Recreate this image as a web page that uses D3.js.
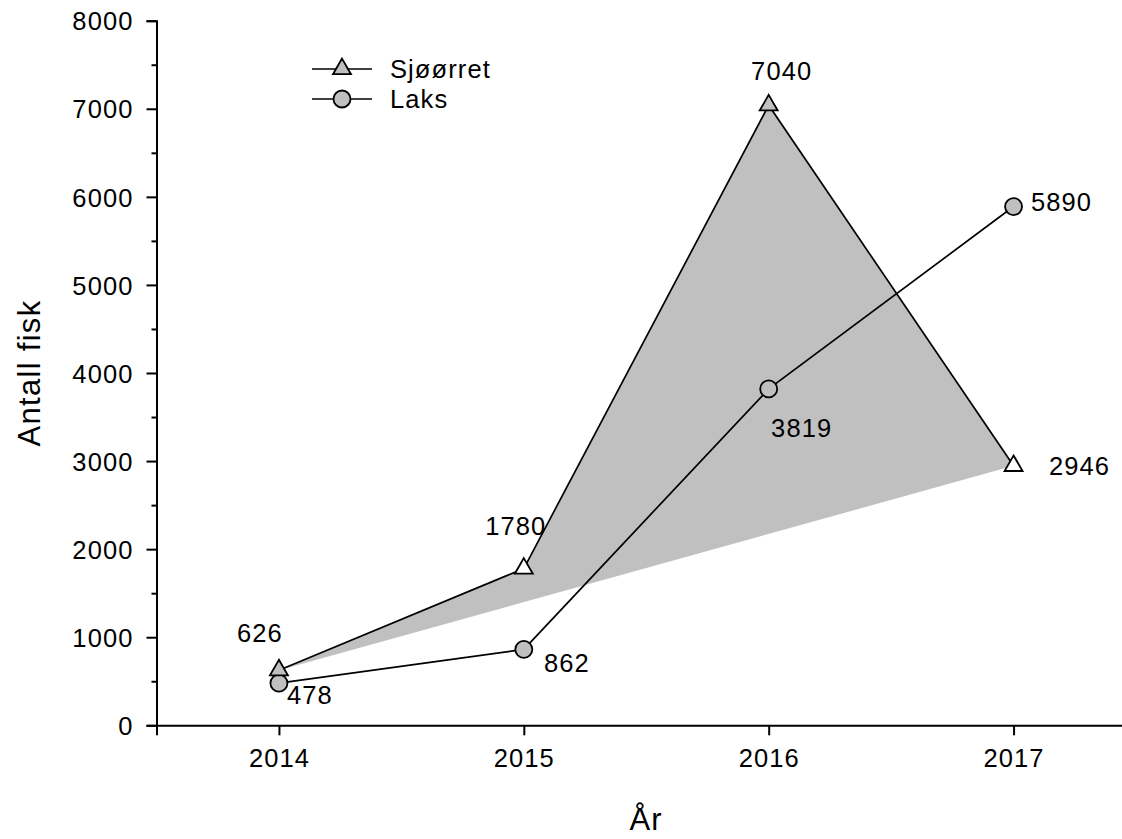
<!DOCTYPE html>
<html>
<head>
<meta charset="utf-8">
<script src="https://cdn.jsdelivr.net/npm/d3@7.9.0/dist/d3.min.js"></script>
<style>
  html, body { margin: 0; padding: 0; background: #fff; }
  svg { display: block; }
  text { font-family: "Liberation Sans", Arial, sans-serif; fill: #000; letter-spacing: 1.1px; }
</style>
</head>
<body>
<div id="chart"></div>
<script>
// data
const years = [2014, 2015, 2016, 2017];
const sjoorret = [626, 1780, 7040, 2946];
const laks = [478, 862, 3819, 5890];
const yMajorTicks = [0, 1000, 2000, 3000, 4000, 5000, 6000, 7000, 8000];
const yMinorTicks = [500, 1500, 2500, 3500, 4500, 5500, 6500, 7500];
const seriesNames = ['Sjøørret', 'Laks'];

// label placement relative to each point (centre of the text)
const sjoLabelOffset = [[-19, -37], [-8, -43], [13, -34], [66, 0]];
const laksLabelOffset = [[31, 12], [43, 13], [33, 39], [48, -5]];
const triangleFill = ['#c0c0c0', '#ffffff', '#c0c0c0', '#ffffff'];

const width = 1122;
const height = 839;
const fontSize = 25.5;
const gray = '#c0c0c0';

const svg = d3
  .select('#chart')
  .append('svg')
  .attr('width', width)
  .attr('height', height)
  .attr('viewBox', `0 0 ${width} ${height}`);

const xScale = d3.scaleLinear().domain([2013.5, 2017.5]).range([156.5, 1136]);
const yScale = d3.scaleLinear().domain([0, 8000]).range([725.3, 20.7]);

const sjoPoints = years.map((y, i) => ({ year: y, value: sjoorret[i], i }));
const laksPoints = years.map((y, i) => ({ year: y, value: laks[i], i }));

const line = d3
  .line()
  .x((d) => xScale(d.year))
  .y((d) => yScale(d.value));

// shaded area, closed straight back from last to first point
svg
  .append('path')
  .attr('d', line(sjoPoints) + 'Z')
  .attr('fill', gray)
  .attr('stroke', 'none');

svg
  .append('path')
  .attr('d', line(sjoPoints))
  .attr('fill', 'none')
  .attr('stroke', '#000')
  .attr('stroke-width', 1.7);

svg
  .append('path')
  .attr('d', line(laksPoints))
  .attr('fill', 'none')
  .attr('stroke', '#000')
  .attr('stroke-width', 1.7);

const triangle = d3.symbol().type(d3.symbolTriangle).size(140);
const circle = d3.symbol().type(d3.symbolCircle).size(227);

svg
  .append('g')
  .selectAll('path')
  .data(laksPoints)
  .join('path')
  .attr('d', circle)
  .attr('transform', (d) => `translate(${xScale(d.year)},${yScale(d.value)})`)
  .attr('fill', gray)
  .attr('stroke', '#000')
  .attr('stroke-width', 1.8);

svg
  .append('g')
  .selectAll('path')
  .data(sjoPoints)
  .join('path')
  .attr('d', triangle)
  .attr('transform', (d) => `translate(${xScale(d.year)},${yScale(d.value)})`)
  .attr('fill', (d) => triangleFill[d.i])
  .attr('stroke', '#000')
  .attr('stroke-width', 1.8);

// value labels
function valueLabels(points, offsets) {
  svg
    .append('g')
    .selectAll('text')
    .data(points)
    .join('text')
    .attr('x', (d) => xScale(d.year) + offsets[d.i][0])
    .attr('y', (d) => yScale(d.value) + offsets[d.i][1])
    .attr('dy', '0.36em')
    .attr('text-anchor', 'middle')
    .attr('font-size', fontSize)
    .text((d) => d.value);
}
valueLabels(sjoPoints, sjoLabelOffset);
valueLabels(laksPoints, laksLabelOffset);

// axes
const xAxis = d3
  .axisBottom(xScale)
  .tickValues(years)
  .tickFormat(d3.format('d'))
  .tickSize(10)
  .tickPadding(14);
const gx = svg.append('g').attr('transform', `translate(0,${yScale(0)})`).call(xAxis);

const yAxis = d3
  .axisLeft(yScale)
  .tickValues(yMajorTicks)
  .tickFormat(d3.format('d'))
  .tickSize(10)
  .tickPadding(13);
const gy = svg.append('g').attr('transform', `translate(${xScale(2013.5)},0)`).call(yAxis);

svg
  .append('g')
  .attr('transform', `translate(${xScale(2013.5)},0)`)
  .call(d3.axisLeft(yScale).tickValues(yMinorTicks).tickSize(5).tickFormat(''))
  .call((g) => g.select('.domain').remove());

svg.selectAll('.domain').attr('stroke-width', 2);
svg.selectAll('.tick line').attr('stroke-width', 2);
[gx, gy].forEach((g) =>
  g.selectAll('.tick text')
    .attr('font-size', fontSize)
    .attr('font-family', '"Liberation Sans", Arial, sans-serif')
);
gy.selectAll('.tick text').attr('dy', '0.36em');

// axis titles
svg
  .append('text')
  .attr('transform', 'translate(40,373) rotate(-90)')
  .attr('text-anchor', 'middle')
  .attr('font-size', 31)
  .style('letter-spacing', '1.3px')
  .text('Antall fisk');

svg
  .append('text')
  .attr('x', 646)
  .attr('y', 830)
  .attr('text-anchor', 'middle')
  .attr('font-size', 31)
  .text('År');

// legend
const legend = svg.append('g').attr('transform', 'translate(312,69)');
const legendRows = legend
  .selectAll('g')
  .data(seriesNames)
  .join('g')
  .attr('transform', (d, i) => `translate(0,${i * 30})`);

legendRows
  .append('line')
  .attr('x1', 0)
  .attr('x2', 60)
  .attr('stroke', '#000')
  .attr('stroke-width', 1.7);

legendRows
  .append('path')
  .attr('d', (d, i) => (i === 0 ? triangle() : circle()))
  .attr('transform', 'translate(30,0)')
  .attr('fill', gray)
  .attr('stroke', '#000')
  .attr('stroke-width', 1.8);

legendRows
  .append('text')
  .attr('x', 78)
  .attr('dy', '0.36em')
  .attr('font-size', fontSize)
  .text((d) => d);
</script>
</body>
</html>
